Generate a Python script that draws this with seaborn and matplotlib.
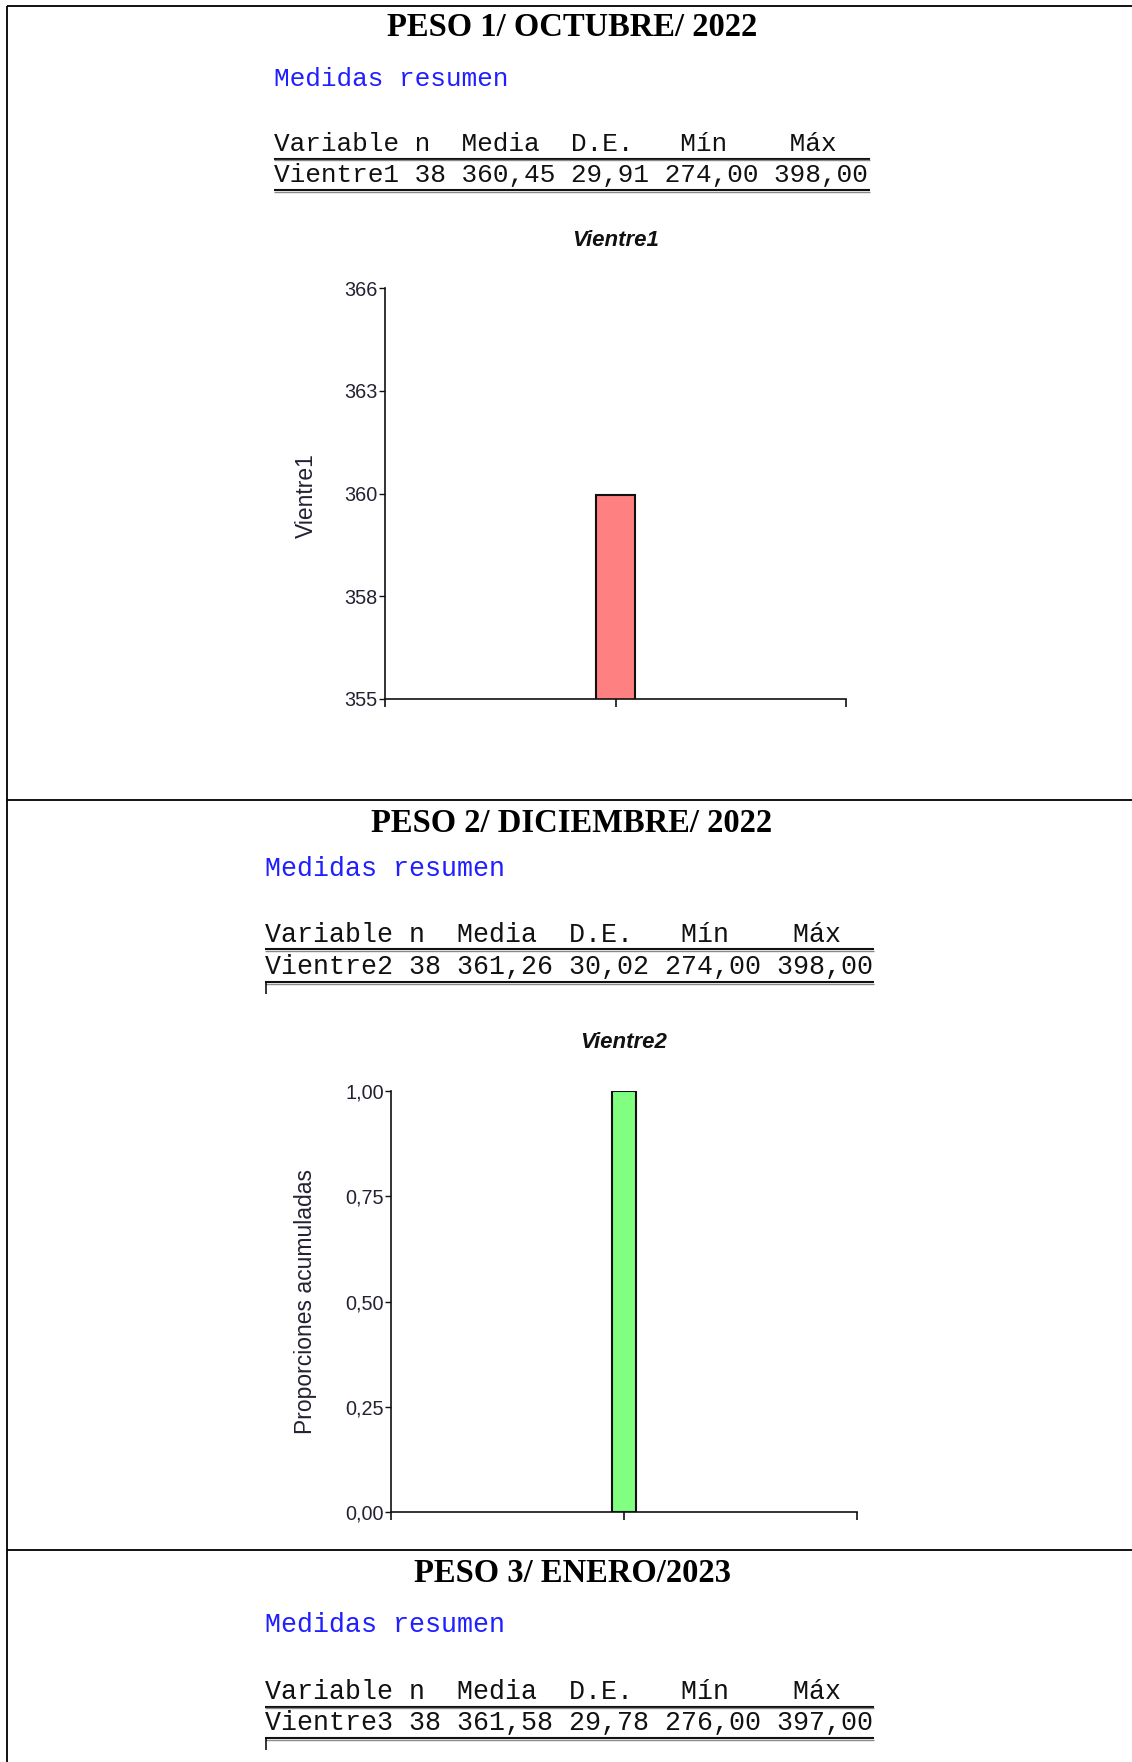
import matplotlib
matplotlib.use("Agg")
import matplotlib.pyplot as plt
from matplotlib.lines import Line2D
from matplotlib.ticker import FixedLocator, FuncFormatter
import numpy as np
import pandas as pd
import seaborn as sns

# Summary statistics per weighing
periodos = ["PESO 1/ OCTUBRE/ 2022", "PESO 2/ DICIEMBRE/ 2022", "PESO 3/ ENERO/2023"]
variables = ["Vientre1", "Vientre2", "Vientre3"]
n_obs = [38, 38, 38]
medias = [360.45, 361.26, 361.58]
desvios = [29.91, 30.02, 29.78]
minimos = [274.00, 274.00, 276.00]
maximos = [398.00, 398.00, 397.00]

# Chart values
barra1_valor = [360.45]
barra2_valor = [1.00]
eje1_ticks = [355.0, 357.75, 360.5, 363.25, 366.0]
eje2_ticks = [0.00, 0.25, 0.50, 0.75, 1.00]

sns.set_theme(style="white")
plt.rcParams["font.family"] = ["Liberation Sans", "DejaVu Sans"]

W, H = 1132, 1762
fig = plt.figure(figsize=(W / 100, H / 100), dpi=100)
fig.patch.set_facecolor("white")


def fx(x):
    return x / W


def fy(y):
    return 1 - y / H


def hline(x0, x1, y, lw=1.1, color="black"):
    fig.add_artist(Line2D([fx(x0), fx(x1)], [fy(y), fy(y)], transform=fig.transFigure,
                          color=color, lw=lw, solid_capstyle="butt"))


def vline(x, y0, y1, lw=1.1, color="black"):
    fig.add_artist(Line2D([fx(x), fx(x)], [fy(y0), fy(y1)], transform=fig.transFigure,
                          color=color, lw=lw, solid_capstyle="butt"))


# Document frame
hline(7, W, 6, lw=1.3)
vline(7, 6, H, lw=1.3)
hline(7, W, 800, lw=1.3)
hline(7, W, 1550, lw=1.3)

HEADER = "Variable n  Media  D.E.   Mín    Máx"


def fila(i):
    s = f"{variables[i]} {n_obs[i]} {medias[i]:.2f} {desvios[i]:.2f} {minimos[i]:.2f} {maximos[i]:.2f}"
    return s.replace(".", ",")


# Section layout: title y, left x, medidas y, header y, row y, table right x, mono size
secciones = [
    dict(ty=28, x=274, my=79, hy=144, ry=175, xr=870, size=18.8, box=False),
    dict(ty=823, x=265, my=869, hy=935, ry=967, xr=874, size=19.2, box=True),
    dict(ty=1573, x=265, my=1625, hy=1692, ry=1723, xr=874, size=19.2, box=True),
]

for i, s in enumerate(secciones):
    fig.text(fx(572), fy(s["ty"]), periodos[i], ha="center", va="center",
             family="Liberation Serif", weight="bold", fontsize=23.5, color="black")
    fig.text(fx(s["x"]), fy(s["my"]), "Medidas resumen", ha="left", va="center",
             family="Liberation Mono", fontsize=s["size"], color="#1f1fff")
    fig.text(fx(s["x"]), fy(s["hy"]), HEADER, ha="left", va="center",
             family="Liberation Mono", fontsize=s["size"], color="#111111")
    fig.text(fx(s["x"]), fy(s["ry"]), fila(i), ha="left", va="center",
             family="Liberation Mono", fontsize=s["size"], color="#111111")
    for yl in (s["hy"] + 14.5, s["ry"] + 15):
        hline(s["x"], s["xr"], yl, lw=1.5, color="#111111")
        hline(s["x"], s["xr"], yl + 1.8, lw=1.0, color="#8a8a8a")
    if s["box"]:
        vline(s["x"] + 1, s["ry"] + 15, s["ry"] + 27, lw=1.1)


def estilo_eje(ax, ticks, fmt):
    sns.despine(ax=ax)
    for side in ("left", "bottom"):
        ax.spines[side].set_linewidth(1.2)
        ax.spines[side].set_color("#111111")
    ax.set_xlim(-1, 1)
    ax.set_xticks([-1, 0, 1])
    ax.set_xticklabels([])
    ax.set_xlabel("")
    ax.yaxis.set_major_locator(FixedLocator(ticks))
    ax.yaxis.set_major_formatter(FuncFormatter(fmt))
    ax.set_ylim(ticks[0], ticks[-1])
    ax.tick_params(axis="y", direction="out", length=4.3, width=1.0, color="#111111",
                   labelsize=14.3, labelcolor="#222233", pad=1, left=True)
    ax.tick_params(axis="x", direction="out", length=5.8, width=1.2, color="#111111",
                   bottom=True)
    ax.grid(False)
    ax.set_facecolor("white")


# Chart 1: mean weight
ax1 = fig.add_axes([385 / W, 1 - 699 / H, 461 / W, 411 / H])
df1 = pd.DataFrame({"Variable": [variables[0]], "Valor": barra1_valor})
sns.barplot(data=df1, x="Variable", y="Valor", color="#ff8080", saturation=1,
            width=0.165, edgecolor="#111111", linewidth=1.5, ax=ax1)
estilo_eje(ax1, eje1_ticks, lambda v, p: f"{v:.0f}")
ax1.set_ylabel("Vientre1", fontsize=16.5, color="#222233")
ax1.yaxis.set_label_coords(-0.145, 0.496)
ax1.set_title("Vientre1", fontsize=16, weight="bold", style="italic", color="#111111", pad=30)

# Chart 2: cumulative proportion
ax2 = fig.add_axes([391 / W, 1 - 1512 / H, 466 / W, 421 / H])
df2 = pd.DataFrame({"Variable": [variables[1]], "Valor": barra2_valor})
sns.barplot(data=df2, x="Variable", y="Valor", color="#80ff80", saturation=1,
            width=0.107, edgecolor="#111111", linewidth=1.5, ax=ax2)
estilo_eje(ax2, eje2_ticks, lambda v, p: f"{v:.2f}".replace(".", ","))
ax2.set_ylabel("Proporciones acumuladas", fontsize=16.5, color="#222233")
ax2.yaxis.set_label_coords(-0.159, 0.5)
ax2.set_title("Vientre2", fontsize=16, weight="bold", style="italic", color="#111111", pad=31)

fig.savefig("out.png", dpi=100, facecolor="white")
